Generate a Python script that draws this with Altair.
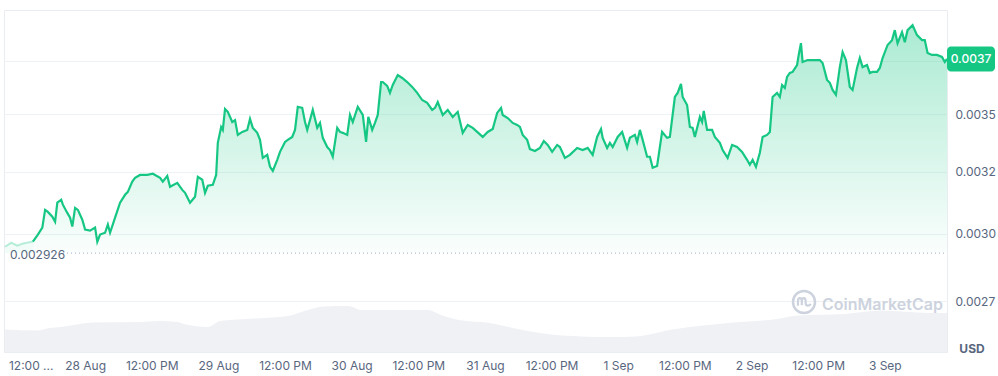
import json
import pandas as pd
import altair as alt

# ---- data ----
# hours relative to 28 Aug 00:00
hours = [
    -14.4, -13.3, -12.2, -11.3, -10.4, -9.4, -8.5, -7.7, -7.2, -6.7,
    -5.9, -5.4, -5.0, -4.3, -4.0, -3.2, -2.7, -2.3, -1.8, -1.3,
    -0.5, 0.0, 0.9, 1.8, 2.2, 2.7, 3.6, 4.1, 4.5, 5.4,
    6.3, 7.2, 7.7, 8.5, 9.0, 9.9, 11.2, 12.2, 13.5, 14.0,
    14.8, 15.3, 16.6, 17.5, 18.0, 18.9, 19.8, 20.3, 21.1, 21.6,
    22.1, 23.0, 23.6, 23.9, 24.5, 24.8, 25.2, 25.7, 26.5, 27.0,
    27.5, 28.3, 29.2, 29.7, 30.2, 31.0, 31.5, 32.0, 32.8, 33.3,
    33.8, 34.6, 35.1, 36.0, 36.5, 37.3, 37.8, 38.3, 39.1, 39.6,
    40.0, 40.5, 41.0, 41.8, 42.3, 42.8, 43.6, 44.1, 44.6, 45.4,
    45.9, 46.4, 47.2, 47.7, 48.2, 49.1, 50.0, 50.6, 51.0, 51.7,
    52.2, 52.7, 53.3, 53.6, 54.4, 54.9, 55.4, 56.3, 57.1, 58.0,
    58.9, 59.8, 60.7, 61.6, 62.5, 63.0, 63.5, 64.4, 65.3, 66.2,
    67.1, 68.0, 68.9, 69.8, 70.6, 71.6, 72.5, 73.4, 74.2, 74.9,
    75.2, 76.1, 77.0, 77.8, 78.3, 78.8, 79.6, 80.1, 81.0, 81.9,
    82.6, 83.3, 84.1, 85.0, 85.5, 86.4, 87.3, 88.6, 89.6, 90.5,
    91.4, 92.2, 92.9, 93.2, 94.0, 94.5, 95.0, 95.9, 96.7, 97.6,
    98.1, 99.0, 99.4, 99.9, 100.4, 101.2, 101.7, 102.2, 103.0, 103.9,
    104.8, 105.3, 106.2, 106.7, 107.3, 107.6, 108.4, 108.9, 109.4, 109.8,
    110.7, 111.1, 111.4, 112.0, 112.9, 113.4, 114.3, 114.8, 115.7, 116.5,
    117.4, 118.3, 119.2, 119.7, 120.2, 120.8, 121.5, 122.0, 122.8, 123.3,
    123.8, 124.6, 125.1, 125.5, 126.0, 126.4, 126.9, 127.4, 128.2, 128.5,
    128.9, 129.2, 130.1, 131.0, 132.3, 132.8, 133.6, 134.1, 134.6, 135.2,
    135.9, 136.4, 137.0, 137.7, 138.2, 139.0, 139.5, 140.0, 140.8, 141.3,
    141.8, 142.6, 143.1, 143.6, 144.5, 145.3, 145.8, 146.3, 147.1, 147.6,
    148.1, 149.0, 149.8, 150.7, 151.2, 151.7, 152.5, 153.4, 154.3, 154.8,
    155.2,
]
prices = [
    0.002950, 0.002966, 0.002954, 0.002962, 0.002966, 0.002970, 0.002997, 0.003024, 0.003094, 0.003086,
    0.003067, 0.003047, 0.003123, 0.003135, 0.003115, 0.003082, 0.003063, 0.003028, 0.003102, 0.003094,
    0.003055, 0.003016, 0.003012, 0.003024, 0.002969, 0.002997, 0.003004, 0.003036, 0.003004, 0.003063,
    0.003123, 0.003155, 0.003167, 0.003209, 0.003225, 0.003237, 0.003237, 0.003242, 0.003225, 0.003209,
    0.003233, 0.003188, 0.003204, 0.003175, 0.003163, 0.003123, 0.003147, 0.003229, 0.003217, 0.003163,
    0.003192, 0.003196, 0.003237, 0.003374, 0.003444, 0.003431, 0.003525, 0.003512, 0.003466, 0.003475,
    0.003409, 0.003422, 0.003431, 0.003480, 0.003440, 0.003418, 0.003387, 0.003309, 0.003322, 0.003271,
    0.003254, 0.003301, 0.003335, 0.003378, 0.003387, 0.003400, 0.003431, 0.003535, 0.003530, 0.003466,
    0.003431, 0.003475, 0.003521, 0.003440, 0.003462, 0.003396, 0.003356, 0.003343, 0.003314, 0.003440,
    0.003422, 0.003418, 0.003409, 0.003498, 0.003466, 0.003535, 0.003498, 0.003378, 0.003489, 0.003431,
    0.003462, 0.003498, 0.003650, 0.003650, 0.003632, 0.003599, 0.003636, 0.003683, 0.003669, 0.003650,
    0.003627, 0.003599, 0.003566, 0.003553, 0.003521, 0.003530, 0.003557, 0.003498, 0.003521, 0.003489,
    0.003512, 0.003418, 0.003453, 0.003440, 0.003422, 0.003400, 0.003422, 0.003435, 0.003507, 0.003530,
    0.003498, 0.003484, 0.003462, 0.003453, 0.003444, 0.003409, 0.003387, 0.003347, 0.003339, 0.003352,
    0.003382, 0.003365, 0.003335, 0.003365, 0.003356, 0.003309, 0.003322, 0.003352, 0.003343, 0.003352,
    0.003322, 0.003400, 0.003435, 0.003396, 0.003352, 0.003374, 0.003356, 0.003400, 0.003422, 0.003352,
    0.003396, 0.003409, 0.003378, 0.003431, 0.003387, 0.003314, 0.003314, 0.003267, 0.003275, 0.003422,
    0.003396, 0.003400, 0.003580, 0.003599, 0.003641, 0.003580, 0.003543, 0.003444, 0.003440, 0.003400,
    0.003489, 0.003466, 0.003516, 0.003431, 0.003431, 0.003400, 0.003374, 0.003343, 0.003309, 0.003365,
    0.003356, 0.003335, 0.003301, 0.003280, 0.003301, 0.003271, 0.003331, 0.003400, 0.003409, 0.003422,
    0.003580, 0.003599, 0.003580, 0.003636, 0.003622, 0.003674, 0.003693, 0.003698, 0.003731, 0.003780,
    0.003838, 0.003746, 0.003755, 0.003755, 0.003755, 0.003741, 0.003660, 0.003646, 0.003613, 0.003590,
    0.003721, 0.003794, 0.003755, 0.003627, 0.003613, 0.003717, 0.003765, 0.003721, 0.003731, 0.003693,
    0.003698, 0.003698, 0.003717, 0.003765, 0.003829, 0.003853, 0.003903, 0.003838, 0.003893, 0.003843,
    0.003903, 0.003928, 0.003878, 0.003853, 0.003853, 0.003790, 0.003780, 0.003780, 0.003770, 0.003746,
    0.003760,
]
vol_hours = [
    -14.4, -8.6, -6.5, -4.3, 1.3, 10.1, 13.3, 16.6, 17.8, 22.1,
    24.3, 31.0, 36.5, 39.8, 43.0, 47.5, 49.7, 52.9, 61.7, 64.1,
    67.3, 72.9, 78.3, 83.9, 89.3, 94.9, 99.2, 105.8, 116.8, 124.6,
    128.0, 136.8, 143.3, 152.1, 155.2,
]
volume_k = [
    22.5, 21.5, 24, 25, 29.4, 30, 31, 30, 28, 25,
    31, 33.5, 36, 41.5, 45.5, 46, 42, 42, 42, 37,
    32, 29, 22.5, 17.4, 15.6, 15, 15.6, 22.5, 29.4, 33,
    36.3, 38, 41.5, 39, 39,
]
open_price = 0.002926
open_label = "0.002926"
last_label = "0.0037"
y_ticks = [0.00275, 0.003, 0.00325, 0.0035, 0.00375]
# the top tick label sits under the current-price badge, so it stays blank
y_labels = ["0.0027", "0.0030", "0.0032", "0.0035", ""]
x_ticks = [-12, 0, 12, 24, 36, 48, 60, 72, 84, 96, 108, 120, 132, 144]
x_labels = ["12:00 ...", "28 Aug", "12:00 PM", "29 Aug", "12:00 PM", "30 Aug",
            "12:00 PM", "31 Aug", "12:00 PM", "1 Sep", "12:00 PM", "2 Sep",
            "12:00 PM", "3 Sep"]

# ---- styling ----
GREEN = "#16c784"
LABEL = "#58667e"
GRID = "#eff2f5"
FONT = "Inter"
W, H = 943, 342
X_DOMAIN = [-14.6, 155.2]
Y_DOMAIN = [0.002575, 0.004006]

df = pd.DataFrame({"h": hours, "price": prices})
df["open"] = open_price
vdf = pd.DataFrame({"h": vol_hours, "vol": volume_k})
last_df = pd.DataFrame({"price": [prices[-1]], "label": [last_label]})
open_df = pd.DataFrame({"open": [open_price], "label": [open_label]})

x_scale = alt.Scale(domain=X_DOMAIN, nice=False, zero=False)
y_scale = alt.Scale(type="log", domain=Y_DOMAIN, nice=False)

x_label_map = "{" + ",".join(f"'{v}': '{l}'" for v, l in zip(x_ticks, x_labels)) + "}"
y_label_map = "{" + ",".join(f"'{v}': '{l}'" for v, l in zip(y_ticks, y_labels)) + "}"

x_axis = alt.Axis(
    values=x_ticks,
    labelExpr=f"{x_label_map}[toString(datum.value)]",
    grid=False, ticks=False, domain=False, labelFlush=False, labelOverlap=False,
    labelPadding=8, labelFontSize=12, labelColor=LABEL, labelFont=FONT, title=None,
    labelAlign={"condition": {"test": "datum.value < 0", "value": "left"}, "value": "center"},
    labelOffset={"condition": {"test": "datum.value < 0", "value": -10}, "value": 0},
)
y_axis = alt.Axis(
    orient="right", values=y_ticks,
    labelExpr=f"{y_label_map}[toString(datum.value)]",
    grid=True, gridColor=GRID, gridWidth=1, ticks=False, domain=False,
    labelPadding=8, labelFontSize=12, labelColor=LABEL, labelFont=FONT, title=None,
    labelOverlap=False,
)

X = alt.X("h:Q", scale=x_scale, axis=x_axis)


def Yp(field):
    return alt.Y(field, type="quantitative", scale=y_scale, axis=y_axis)


volume = alt.Chart(vdf).mark_area(color="#eff1f5", interpolate="monotone").encode(
    x=X,
    y=alt.Y("vol:Q", scale=alt.Scale(domain=[0, H], nice=False), axis=None),
)

area = alt.Chart(df).mark_area(
    interpolate="linear",
    color=alt.Gradient(
        gradient="linear",
        stops=[alt.GradientStop(color="rgba(22,199,132,0.36)", offset=0),
               alt.GradientStop(color="rgba(22,199,132,0.02)", offset=1)],
        x1=1, x2=1, y1=0, y2=1,
    ),
).transform_filter("datum.h >= -9.4").encode(x=X, y=Yp("price"), y2="open:Q")

faint_area = alt.Chart(df).mark_area(color="rgba(22,199,132,0.06)").transform_filter(
    "datum.h <= -9.4").encode(x=X, y=Yp("price"), y2="open:Q")

line = alt.Chart(df).mark_line(color=GREEN, strokeWidth=2.2).transform_filter(
    "datum.h >= -9.4").encode(x=X, y=Yp("price"))
faint_line = alt.Chart(df).mark_line(color=GREEN, strokeWidth=2, opacity=0.3).transform_filter(
    "datum.h <= -9.4").encode(x=X, y=Yp("price"))

open_rule = alt.Chart(open_df).mark_rule(color="#a6b0c3", strokeDash=[1, 3], strokeWidth=1).encode(
    x=alt.value(59), x2=alt.value(W), y=Yp("open"),
)
open_text = alt.Chart(open_df).mark_text(
    align="left", baseline="middle", dy=2, fontSize=12, font=FONT, color=LABEL,
).encode(x=alt.value(6), y=Yp("open"), text="label:N")

box_path = ("M-0.833,-0.52 H0.833 A0.167,0.167 0 0 1 1,-0.353 V0.353 "
            "A0.167,0.167 0 0 1 0.833,0.52 H-0.833 A0.167,0.167 0 0 1 -1,0.353 "
            "V-0.353 A0.167,0.167 0 0 1 -0.833,-0.52 Z")
price_box = alt.Chart(last_df).mark_point(
    shape=box_path, size=48 * 48, filled=True, fill=GREEN, opacity=1, strokeWidth=0,
).encode(x=alt.value(W + 24), y=Yp("price"))
price_text = alt.Chart(last_df).mark_text(
    align="center", baseline="middle", fontSize=12, font=FONT, color="white", fontWeight=500,
).encode(x=alt.value(W + 24), y=Yp("price"), text="label:N")

price_layers = alt.layer(faint_area, area, faint_line, line, open_rule, open_text,
                         price_box, price_text)

usd_df = pd.DataFrame({"t": ["USD"]})
usd = alt.Chart(usd_df).mark_text(
    align="center", baseline="middle", fontSize=12, font=FONT, fontWeight="bold", color=LABEL,
).encode(x=alt.value(W + 25), y=alt.value(H - 3), text="t:N")

wm_df = pd.DataFrame({"t": ["CoinMarketCap"]})
WM = "#cdd3de"
wm_text = alt.Chart(wm_df).mark_text(
    align="left", baseline="middle", fontSize=16, font=FONT, fontWeight=600, color=WM,
).encode(x=alt.value(818), y=alt.value(295), text="t:N")
wm_ring = alt.Chart(wm_df).mark_point(
    shape="circle", size=22 * 22, filled=False, stroke=WM, strokeWidth=2.5, opacity=1,
).encode(x=alt.value(800), y=alt.value(292))
logo_path = ("M-0.55,0.35 L-0.55,-0.05 C-0.55,-0.45 -0.2,-0.45 -0.2,-0.05 L-0.2,0.3 "
             "M-0.2,-0.05 C-0.2,-0.45 0.15,-0.45 0.15,-0.05 L0.15,0.12 "
             "C0.15,0.38 0.45,0.4 0.62,0.18")
wm_m = alt.Chart(wm_df).mark_point(
    shape=logo_path, size=22 * 22, filled=False, stroke=WM, strokeWidth=2.2, opacity=1,
).encode(x=alt.value(800), y=alt.value(292))

chart = alt.layer(volume, price_layers, wm_ring, wm_m, wm_text, usd).resolve_scale(
    y="independent"
).properties(
    width=W, height=H,
    autosize=alt.AutoSizeParams(type="none"),
    padding={"left": 4, "top": 10, "right": 51, "bottom": 24},
    background="white",
).configure_view(stroke="#e9ecf1", strokeWidth=1)

chart.save("out.html", embed_options={"renderer": "svg", "actions": False})
